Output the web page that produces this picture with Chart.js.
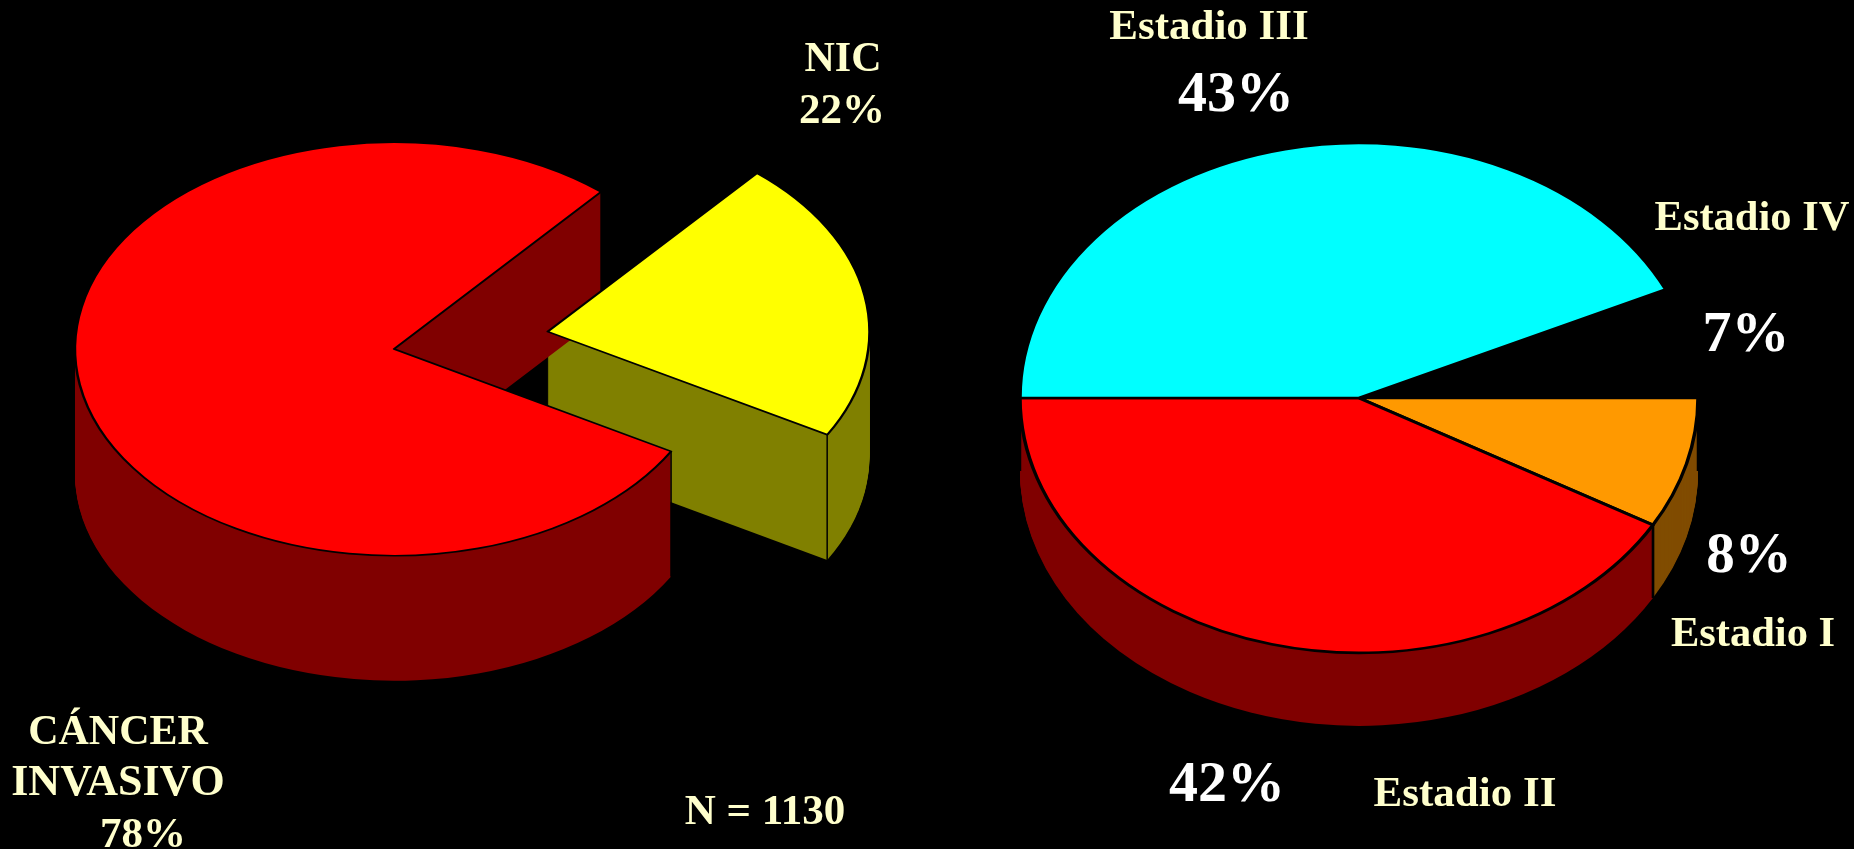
<!DOCTYPE html>
<html lang="es">
<head>
    <meta charset="UTF-8">
    <title>Cáncer invasivo y estadios</title>
    <script src="https://cdn.jsdelivr.net/npm/chart.js"></script>
    <style>
        html, body { margin: 0; padding: 0; width: 1854px; height: 849px; background: #000; overflow: hidden; }
        canvas { position: absolute; top: 0; }
        #chartLeft { left: 0; }
        #chartRight { left: 927px; }
        .lbl {
            position: absolute;
            transform: translateX(-50%);
            font-family: "Liberation Serif", serif;
            font-weight: bold;
            line-height: 1;
            white-space: nowrap;
            color: #ffffcc;
        }
    </style>
</head>
<body>
    <canvas id="chartLeft" width="927" height="849"></canvas>
    <canvas id="chartRight" width="927" height="849"></canvas>

<script>
    // pie 1
    const tipoLabels = ['NIC', 'CÁNCER INVASIVO'];
    const tipoValues = [22, 78];
    const tipoTop = ['#ffff00', '#ff0000'];
    const tipoSide = ['#808000', '#800000'];

    // pie 2, slice sizes (printed labels are rounded)
    const estadioLabels = ['Estadio IV', 'Estadio I', 'Estadio II', 'Estadio III'];
    const estadioValues = [7, 8.3, 41.7, 43];
    const estadioTop = ['#000000', '#ff9900', '#ff0000', '#00ffff'];
    const estadioSide = ['#000000', '#804c00', '#800000', '#008080'];

    // text around the pies: [text, center x, baseline y, font size, colour]
    const textos = [
        ['NIC', 843, 71, 42, '#ffffcc'],
        ['22%', 842, 123, 43, '#ffffcc'],
        ['CÁNCER', 118, 744, 42, '#ffffcc'],
        ['INVASIVO', 118, 796, 44, '#ffffcc'],
        ['78%', 143, 847, 43, '#ffffcc'],
        ['N = 1130', 765, 824, 43, '#ffffcc'],
        ['Estadio III', 1209, 39, 43, '#ffffcc'],
        ['43%', 1236, 112, 58, '#ffffff'],
        ['Estadio IV', 1752, 231, 42.5, '#ffffcc'],
        ['7%', 1746, 352, 58, '#ffffff'],
        ['8%', 1749, 572, 57, '#ffffff'],
        ['Estadio I', 1753, 647, 42.5, '#ffffcc'],
        ['42%', 1227, 802, 58, '#ffffff'],
        ['Estadio II', 1465, 806, 43, '#ffffcc']
    ];

    textos.forEach(([txt, x, base, size, color]) => {
        const d = document.createElement('div');
        d.className = 'lbl';
        d.textContent = txt;
        d.style.left = x + 'px';
        d.style.top = (base - 0.8375 * size) + 'px';
        d.style.fontSize = size + 'px';
        d.style.color = color;
        document.body.appendChild(d);
    });

    // where an arc really sits once its offset is applied
    function arcGeom(arc) {
        const off = (arc.options.offset || 0) / 4;
        const mid = (arc.startAngle + arc.endAngle) / 2;
        const fix = 1 - Math.sin(Math.min(Math.PI, arc.circumference));
        return {
            cx: arc.x + Math.cos(mid) * off,
            cy: arc.y + Math.sin(mid) * off,
            r: arc.outerRadius + off * fix,
            mid: mid
        };
    }

    function squash(ctx, arc, k, d) {
        ctx.translate(arc.x, arc.y + d);
        ctx.scale(1, k);
        ctx.translate(-arc.x, -arc.y);
    }

    // flattens the pie and stacks the dark sides under it
    const pie3d = {
        id: 'pie3d',
        beforeDatasetDraw(chart, args, opts) {
            const ctx = chart.ctx;
            const arcs = chart.getDatasetMeta(args.index).data;
            const k = opts.squash;

            const order = arcs.map((a, i) => i).sort((a, b) =>
                Math.sin(arcGeom(arcs[a]).mid) - Math.sin(arcGeom(arcs[b]).mid));

            order.forEach(i => {
                const arc = arcs[i];
                const g = arcGeom(arc);
                ctx.fillStyle = opts.sideColors[i];
                for (let d = opts.depth; d > 0; d--) {
                    ctx.save();
                    squash(ctx, arc, k, d);
                    ctx.beginPath();
                    ctx.moveTo(g.cx, g.cy);
                    ctx.arc(g.cx, g.cy, g.r, arc.startAngle, arc.endAngle);
                    ctx.closePath();
                    ctx.fill();
                    ctx.restore();
                }
                // vertical edges at the two corners
                ctx.strokeStyle = '#000';
                ctx.lineWidth = opts.edgeWidth;
                [arc.startAngle, arc.endAngle].forEach(t => {
                    const px = g.cx + g.r * Math.cos(t);
                    const py = arc.y + k * (g.cy - arc.y + g.r * Math.sin(t));
                    ctx.beginPath();
                    ctx.moveTo(px, py);
                    ctx.lineTo(px, py + opts.depth);
                    ctx.stroke();
                });
            });

            ctx.save();
            squash(ctx, arcs[0], k, 0);
        },
        afterDatasetDraw(chart) {
            chart.ctx.restore();
        }
    };

    function makePie(id, labels, values, top, side, cfg) {
        return new Chart(document.querySelector(id), {
            type: 'pie',
            plugins: [pie3d],
            data: {
                labels: labels,
                datasets: [{
                    data: values,
                    backgroundColor: top,
                    borderColor: '#000000',
                    borderWidth: cfg.border,
                    borderJoinStyle: 'round',
                    offset: cfg.offset,
                    clip: false
                }]
            },
            options: {
                responsive: false,
                animation: false,
                rotation: cfg.rotation,
                radius: cfg.radius,
                layout: { padding: cfg.padding },
                plugins: {
                    legend: { display: false },
                    tooltip: { enabled: false },
                    pie3d: { squash: cfg.squash, depth: cfg.depth, sideColors: side, edgeWidth: cfg.edge }
                }
            }
        });
    }

    makePie('#chartLeft', tipoLabels, tipoValues, tipoTop, tipoSide, {
        rotation: 40.5,
        radius: 319,
        squash: 0.648,
        depth: 125,
        offset: [624, 0],
        border: 2.5,
        edge: 1.5,
        padding: { right: 139, bottom: 151 }
    });

    makePie('#chartRight', estadioLabels, estadioValues, estadioTop, estadioSide, {
        rotation: 64.8,
        radius: 339,
        squash: 0.752,
        depth: 73,
        offset: 0,
        border: 3.5,
        edge: 2.5,
        padding: { right: 63, bottom: 53 }
    });
</script>
</body>
</html>
